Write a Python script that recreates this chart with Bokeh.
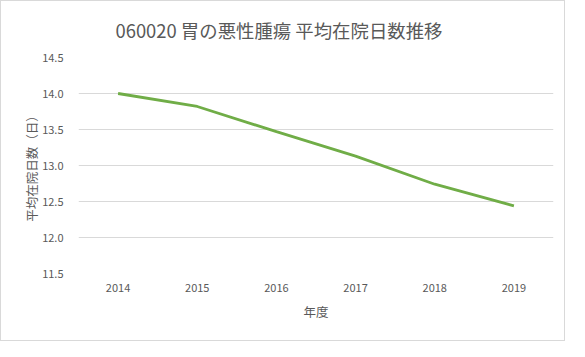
from bokeh.plotting import figure
from bokeh.embed import file_html
from bokeh.resources import INLINE
from bokeh.models import FactorRange, Range1d, FixedTicker, CustomJSTickFormatter

years = ["2014", "2015", "2016", "2017", "2018", "2019"]
days = [14.00, 13.82, 13.47, 13.13, 12.74, 12.44]
y_ticks = [11.5, 12.0, 12.5, 13.0, 13.5, 14.0, 14.5]
title_text = "060020 胃の悪性腫瘍 平均在院日数推移"

FONT = "Noto Sans CJK JP"
GREY = "#595959"

p = figure(width=565, height=341, x_range=FactorRange(*years), y_range=Range1d(11.5, 14.5),
           output_backend="svg", toolbar_location=None,
           min_border_left=77, min_border_right=13, min_border_top=56, min_border_bottom=69)
p.styles = {"border": "1px solid #d9d9d9"}
p.title.text = title_text
p.title.align = "left"
p.title.offset = 37
p.title.vertical_align = "top"
p.title.text_font = FONT
p.title.text_font_size = "18.4px"
p.title.text_font_style = "normal"
p.title.text_color = GREY
p.title.standoff = 26

p.line(x=years, y=days, line_color="#70AD47", line_width=2.8)

p.outline_line_color = None
p.xgrid.grid_line_color = None
p.ygrid.grid_line_color = "#d9d9d9"
p.ygrid.grid_line_width = 1
p.yaxis.ticker = FixedTicker(ticks=y_ticks)
p.yaxis.formatter = CustomJSTickFormatter(code="return tick.toFixed(1);")

for ax in (p.xaxis[0], p.yaxis[0]):
    ax.axis_line_color = None
    ax.major_tick_line_color = None
    ax.minor_tick_line_color = None
    ax.major_label_text_font = FONT
    ax.major_label_text_font_size = "11px"
    ax.major_label_text_color = GREY
    ax.axis_label_text_font = FONT
    ax.axis_label_text_font_size = "12.5px"
    ax.axis_label_text_font_style = "normal"
    ax.axis_label_text_color = GREY

p.xaxis.axis_label = "年度"
p.xaxis.major_label_standoff = 4
p.xaxis.axis_label_standoff = 7
p.yaxis.axis_label = "平均在院日数（日）"
p.yaxis.major_label_standoff = 9
p.yaxis.axis_label_standoff = -2

p.background_fill_color = "white"
p.border_fill_color = "white"

open("out.html", "w").write(file_html(p, INLINE))
